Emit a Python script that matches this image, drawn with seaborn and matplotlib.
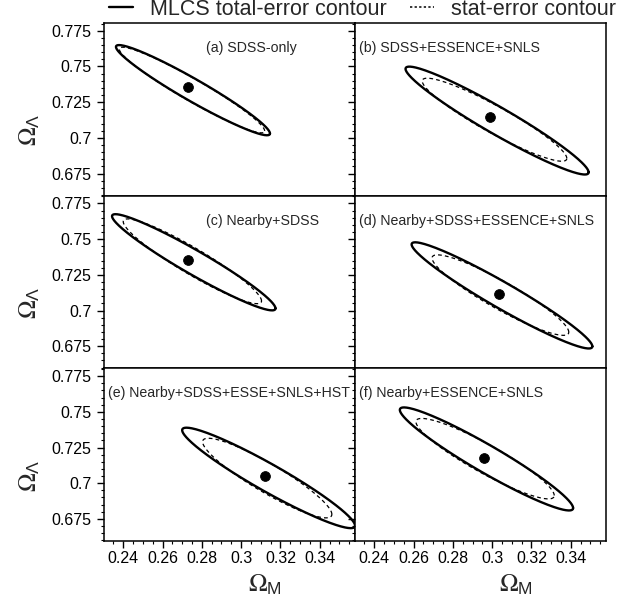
import numpy as np
import matplotlib
matplotlib.use("Agg")
import matplotlib.pyplot as plt
import seaborn as sns
from matplotlib.ticker import MultipleLocator, FuncFormatter
from matplotlib.lines import Line2D

# ---------------- data ----------------
panel_labels = ["(a) SDSS-only", "(b) SDSS+ESSENCE+SNLS", "(c) Nearby+SDSS",
                "(d) Nearby+SDSS+ESSENCE+SNLS", "(e) Nearby+SDSS+ESSE+SNLS+HST",
                "(f) Nearby+ESSENCE+SNLS"]
best_om = [0.2728, 0.2989, 0.2728, 0.3033, 0.3121, 0.2956]
best_ol = [0.7355, 0.7145, 0.7357, 0.7118, 0.7048, 0.7180]

# total-error contour: centre, half-extent in x and y, correlation
tot_cx = [0.2755, 0.3025, 0.2759, 0.3050, 0.3140, 0.2971]
tot_cy = [0.7334, 0.7121, 0.7338, 0.7106, 0.7037, 0.7170]
tot_sx = [0.0392, 0.0466, 0.0416, 0.0460, 0.0440, 0.0441]
tot_sy = [0.0316, 0.0378, 0.0337, 0.0372, 0.0352, 0.0361]
tot_rho = [-0.960, -0.958, -0.958, -0.960, -0.950, -0.952]

# stat-error contour
stat_cx = [0.2750, 0.3012, 0.2752, 0.3042, 0.3133, 0.2964]
stat_cy = [0.7335, 0.7127, 0.7345, 0.7108, 0.7036, 0.7172]
stat_sx = [0.0370, 0.0368, 0.0352, 0.0348, 0.0329, 0.0352]
stat_sy = [0.0300, 0.0291, 0.0297, 0.0282, 0.0279, 0.0282]
stat_rho = [-0.955, -0.930, -0.935, -0.920, -0.910, -0.915]

legend_labels = ["MLCS total-error contour", "stat-error contour"]

# ---------------- style ----------------
sns.set_theme(style="ticks")
plt.rcParams["font.family"] = ["Liberation Sans", "DejaVu Sans"]
plt.rcParams["mathtext.fontset"] = "custom"
plt.rcParams["mathtext.rm"] = "STIXGeneral"
plt.rcParams["mathtext.it"] = "STIXGeneral:italic"
plt.rcParams["mathtext.bf"] = "STIXGeneral:bold"
plt.rcParams["mathtext.sf"] = "Liberation Sans"
plt.rcParams["axes.edgecolor"] = "black"
plt.rcParams["axes.linewidth"] = 1.1
plt.rcParams["xtick.color"] = "black"
plt.rcParams["ytick.color"] = "black"

DASH = (0, (3, 2.5))


def ellipse(cx, cy, sx, sy, rho, n=400):
    t = np.linspace(0, 2 * np.pi, n)
    x = cx + sx * np.cos(t)
    y = cy + sy * (rho * np.cos(t) + np.sqrt(1 - rho ** 2) * np.sin(t))
    return x, y


fig, axes = plt.subplots(3, 2, figsize=(6.36, 6.04), dpi=100, sharex=True, sharey=True)
fig.subplots_adjust(left=0.1635, right=0.953, top=0.962, bottom=0.1043,
                    wspace=0, hspace=0)

fmt = FuncFormatter(lambda v, p: "%g" % round(v, 4))

for i, ax in enumerate(axes.flat):
    r, c = divmod(i, 2)
    x, y = ellipse(tot_cx[i], tot_cy[i], tot_sx[i], tot_sy[i], tot_rho[i])
    sns.lineplot(x=x, y=y, sort=False, estimator=None, ax=ax, color="black", lw=1.7)
    x, y = ellipse(stat_cx[i], stat_cy[i], stat_sx[i], stat_sy[i], stat_rho[i])
    sns.lineplot(x=x, y=y, sort=False, estimator=None, ax=ax, color="black",
                 lw=0.9, linestyle=DASH)
    sns.scatterplot(x=[best_om[i]], y=[best_ol[i]], ax=ax, color="black", s=50,
                    edgecolor="black", zorder=5)

    lx = 0.406 if c == 0 and r < 2 else 0.014
    ax.text(lx, 0.855, panel_labels[i], transform=ax.transAxes, fontsize=10.2,
            va="center", ha="left", clip_on=False)

    ax.set_xlim(0.2302, 0.358)
    ax.set_ylim(0.6595, 0.7805)
    ax.xaxis.set_major_locator(MultipleLocator(0.02))
    ax.xaxis.set_minor_locator(MultipleLocator(0.005))
    ax.yaxis.set_major_locator(MultipleLocator(0.025))
    ax.yaxis.set_minor_locator(MultipleLocator(0.005))
    ax.xaxis.set_major_formatter(fmt)
    ax.yaxis.set_major_formatter(fmt)
    ax.tick_params(which="major", direction="out", length=5, width=1, labelsize=11.5)
    ax.tick_params(axis="x", which="major", pad=2.5)
    ax.tick_params(axis="y", which="major", pad=4)
    ax.tick_params(which="minor", direction="out", length=2.5, width=0.8)
    ax.tick_params(labelleft=(c == 0), labelbottom=(r == 2))
    ax.set_xlabel("")
    ax.set_ylabel("")
    if c == 0:
        ax.set_ylabel(r"$\Omega_{\mathsf{\Lambda}}$", fontsize=18)
        ax.yaxis.set_label_coords(-0.245, 0.38)
    if r == 2:
        ax.set_xlabel(r"$\Omega_{\mathsf{M}}$", fontsize=18)
        ax.xaxis.set_label_coords(0.64, -0.185)

handles = [Line2D([], [], color="black", lw=1.7),
           Line2D([], [], color="black", lw=1.1, linestyle=(0, (1.5, 1.5)))]
fig.legend(handles, legend_labels, loc="center", bbox_to_anchor=(0.57, 0.985),
           ncol=2, frameon=False, fontsize=15.5, handlelength=1.1,
           handletextpad=0.8, columnspacing=1.1, borderpad=0, borderaxespad=0)

fig.savefig("out.png", dpi=100)
